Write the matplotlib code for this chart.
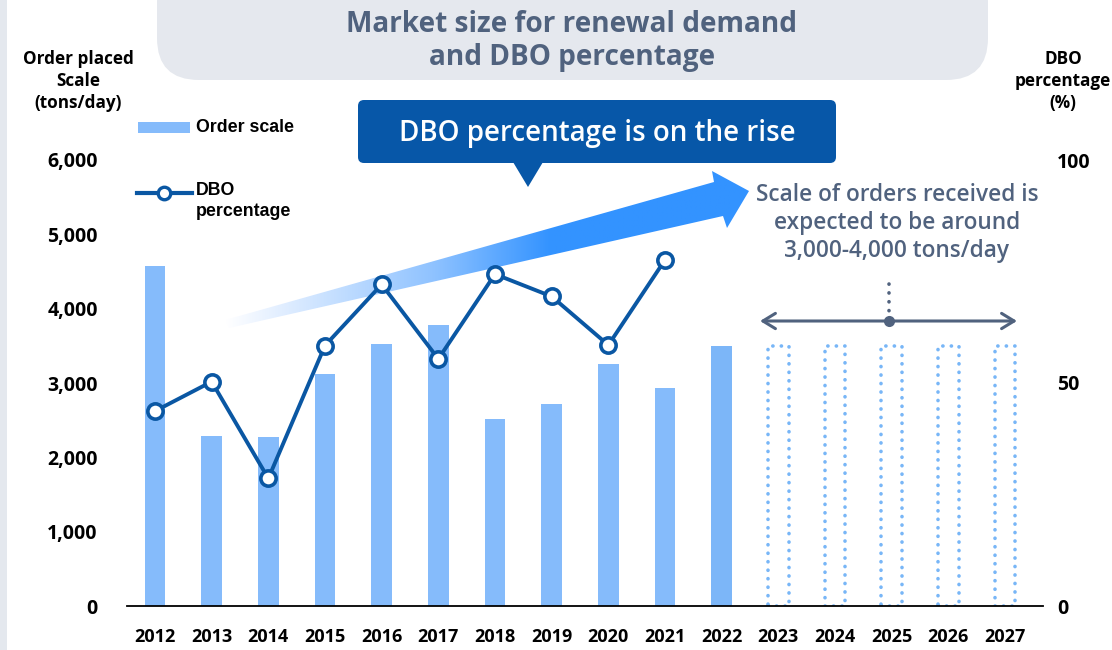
import numpy as np
import matplotlib
matplotlib.use('Agg')
import matplotlib.pyplot as plt
from matplotlib.patches import FancyBboxPatch, Polygon, Rectangle
from matplotlib.colors import LinearSegmentedColormap

plt.rcParams['font.family'] = ['Open Sans', 'DejaVu Sans']

# order scale (tons/day), actual results
years = [2012, 2013, 2014, 2015, 2016, 2017, 2018, 2019, 2020, 2021, 2022]
order_scale = [4570, 2290, 2270, 3120, 3520, 3780, 2520, 2720, 3260, 2930, 3500]

# outlook years, drawn as dotted outlines
future_years = [2023, 2024, 2025, 2026, 2027]
future_scale = [3500, 3500, 3500, 3500, 3500]

# DBO percentage (%)
dbo_years = [2012, 2013, 2014, 2015, 2016, 2017, 2018, 2019, 2020, 2021]
dbo_pct = [43.7, 50.3, 28.6, 58.4, 72.1, 55.4, 74.4, 69.4, 58.5, 77.6]

left_ticks = [0, 1000, 2000, 3000, 4000, 5000, 6000]
right_ticks = [0, 50, 100]

BAR = '#85bbfb'
BAR_DOT = '#78b6f7'
LINE = '#0a57a3'
SLATE = '#50627e'
NAVY = '#0757a8'

W, H = 1112, 650
fig = plt.figure(figsize=(W / 100, H / 100), dpi=100)

# decoration layer in pixel coordinates (origin top-left)
deco = fig.add_axes([0, 0, 1, 1], zorder=0)
deco.set_xlim(0, W)
deco.set_ylim(H, 0)
deco.axis('off')

deco.add_patch(Rectangle((0, 0), 7, H, color='#e4e8ee', lw=0))

# title pill
deco.add_patch(FancyBboxPatch((157, -40), 831, 120,
                              boxstyle='round,pad=0,rounding_size=42',
                              fc='#e5e8ee', ec='none'))
deco.text(572, 41, 'Market size for renewal demand\nand DBO percentage',
          ha='center', va='center', fontsize=20.2, fontweight='bold',
          color=SLATE, linespacing=1.2)

# callout box
deco.add_patch(FancyBboxPatch((358, 100), 478, 63,
                              boxstyle='round,pad=0,rounding_size=6',
                              fc=NAVY, ec='none'))
deco.add_patch(Polygon([(513, 162), (543, 162), (528, 187)], closed=True,
                       fc=NAVY, ec='none'))
deco.text(597, 133, 'DBO percentage is on the rise', ha='center',
          va='center', fontsize=20, fontweight='semibold', color='white')

# rising arrow with fading tail
arrow_pts = [(225, 320), (714, 182), (712, 171), (749, 191),
             (727, 228), (723, 216), (229, 328)]
arrow = Polygon(arrow_pts, closed=True, fc='none', ec='none')
deco.add_patch(arrow)
grad = np.linspace(0, 1, 256).reshape(1, -1)
cmap = LinearSegmentedColormap.from_list(
    'fade', [(0.0, '#ffffff'), (0.1, '#e3efff'), (0.4, '#8ec2ff'),
             (0.62, '#3393ff'), (1.0, '#3393ff')])
im = deco.imshow(grad, cmap=cmap, extent=[225, 750, 330, 170],
                 aspect='auto', interpolation='bilinear')
im.set_clip_path(arrow)
deco.set_xlim(0, W)
deco.set_ylim(H, 0)

# outlook note
deco.text(897, 223, 'Scale of orders received is\nexpected to be around\n3,000-4,000 tons/day',
          ha='center', va='center', fontsize=16.3, fontweight='semibold',
          color=SLATE, linespacing=1.22)
deco.annotate('', xy=(760, 321), xytext=(1017, 321),
              arrowprops=dict(arrowstyle='<->,head_length=0.9,head_width=0.55',
                              color=SLATE, lw=2.2, shrinkA=0, shrinkB=0))
deco.plot([889, 889], [284, 314], color=SLATE, lw=2.6,
          linestyle=(0, (0.05, 2.4)), dash_capstyle='round')
deco.plot(889, 321, 'o', color=SLATE, ms=8, mec='none')

# axis titles
deco.text(78, 81, 'Order placed\nScale\n(tons/day)', ha='center', va='center',
          fontsize=12.3, fontweight='bold', linespacing=1.3)
deco.text(1063, 81, 'DBO\npercentage\n(%)', ha='center', va='center',
          fontsize=12.3, fontweight='bold', linespacing=1.3)

# legend
deco.add_patch(Rectangle((138, 122), 52, 11, color=BAR, lw=0))
deco.text(196, 128, 'Order scale', va='center', fontsize=12.8,
          fontweight='bold', family='Liberation Sans')
deco.plot([137, 192], [193, 193], color=LINE, lw=3)
deco.plot(164, 193, 'o', color=LINE, mfc='white', ms=9, mew=2.4)
deco.text(196, 201, 'DBO\npercentage', va='center', fontsize=12.8,
          fontweight='bold', family='Liberation Sans', linespacing=1.25)

# chart axes
ax = fig.add_axes([127 / W, 44 / H, 916 / W, 446 / H], zorder=1)
ax.patch.set_visible(False)
bar_w = 0.36
colors = [BAR] * (len(years) - 1) + ['#7cb6f8']
ax.bar(years, order_scale, width=bar_w, color=colors, lw=0)
dotted = ax.bar(future_years, future_scale, width=bar_w, fill=False,
                edgecolor=BAR_DOT, lw=2.6, linestyle=(0, (0.05, 2.3)))
for b in dotted:
    b.set_capstyle('round')

ax.set_xlim(2011.506, 2027.67)
ax.set_ylim(0, 6000)
ax.set_xticks(years + future_years)
ax.set_xticklabels([str(y) for y in years + future_years])
ax.set_yticks(left_ticks)
ax.set_yticklabels([f'{v:,}' for v in left_ticks])
ax.tick_params(axis='x', length=0, pad=16, labelsize=13)
ax.tick_params(axis='y', length=0, pad=21, labelsize=14)
for lab in ax.get_xticklabels() + ax.get_yticklabels():
    lab.set_fontweight('bold')
for s in ['top', 'right', 'left']:
    ax.spines[s].set_visible(False)
ax.spines['bottom'].set_linewidth(1.3)
ax.spines['bottom'].set_color('black')

ax2 = ax.twinx()
ax2.patch.set_visible(False)
ax2.plot(dbo_years, dbo_pct, color=LINE, lw=2.8, marker='o', ms=11,
         mfc='white', mec=LINE, mew=2.6, zorder=3)
ax2.set_ylim(0, 100)
ax2.set_yticks(right_ticks)
ax2.tick_params(axis='y', length=0, pad=10, labelsize=14)
for lab in ax2.get_yticklabels():
    lab.set_fontweight('bold')
for s in ['top', 'right', 'left', 'bottom']:
    ax2.spines[s].set_visible(False)

fig.savefig('out.png', dpi=100)
